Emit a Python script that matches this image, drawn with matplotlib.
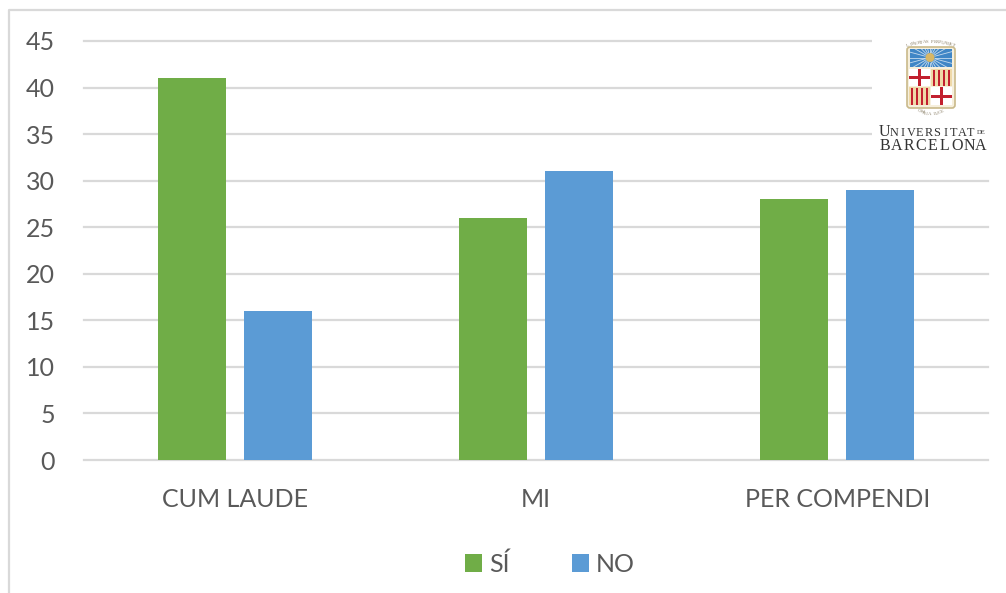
import matplotlib
matplotlib.use('Agg')
import matplotlib.pyplot as plt
import matplotlib.patches as patches
from matplotlib.lines import Line2D
import numpy as np

plt.rcParams['font.family'] = ['Lato', 'DejaVu Sans']

categories = ['CUM LAUDE', 'MI', 'PER COMPENDI']
si_values = [41, 26, 28]
no_values = [16, 31, 29]
y_ticks = [0, 5, 10, 15, 20, 25, 30, 35, 40, 45]

GREEN = '#70AD47'
BLUE = '#5B9BD5'
GRID = '#D9D9D9'
TEXT = '#595959'
W, H = 1006, 593


def spaced(ov, s, x0, x1, y, size):
    # evenly spread letters, the wordmark is letterspaced
    for cx, ch in zip(np.linspace(x0, x1, len(s)), s):
        ov.text(cx, y, ch, fontsize=size, color='#333333', ha='center', va='center',
                family='Liberation Serif', zorder=5)


def arc_text(ov, s, cx, cy, r, a0, a1, flip=False):
    for a, ch in zip(np.radians(np.linspace(a0, a1, len(s))), s):
        rot = np.degrees(a) - 90 if not flip else np.degrees(a) + 90
        ov.text(cx + r * np.cos(a), cy - r * np.sin(a), ch, fontsize=3.4, color='#8A7F66',
                rotation=rot, ha='center', va='center', family='Liberation Serif', zorder=5)


def draw_logo(ov):
    # white box hides the gridlines behind the logo
    ov.add_patch(patches.Rectangle((872, 22), 125, 142, fc='white', ec='none', zorder=1))
    ov.add_patch(patches.FancyBboxPatch((908, 48), 46, 59, boxstyle='round,pad=1,rounding_size=3',
                                        fc='#F6EFDC', ec='#C9B98A', lw=1.2, zorder=2))
    sky = patches.Rectangle((910, 49), 42, 18, fc='#3F86C6', ec='none', zorder=3)
    ov.add_patch(sky)
    for a in np.linspace(0, 2 * np.pi, 24, endpoint=False):
        ray = Line2D([930 + 5 * np.cos(a), 930 + 26 * np.cos(a)],
                     [57.5 + 5 * np.sin(a), 57.5 + 26 * np.sin(a)],
                     color='white', lw=0.6, alpha=0.7, zorder=4)
        ov.add_line(ray)
        ray.set_clip_path(sky)
    ov.add_patch(patches.Ellipse((930, 57.5), 9, 9, fc='#D8B765', ec='none', zorder=5))
    # quarters: cross, bars, bars, cross
    ov.add_patch(patches.Rectangle((909, 69), 21, 17, fc='white', ec='none', zorder=3))
    ov.add_patch(patches.Rectangle((931, 69), 21, 17, fc='#EFD9A8', ec='none', zorder=3))
    ov.add_patch(patches.Rectangle((909, 87), 21, 18, fc='#EFD9A8', ec='none', zorder=3))
    ov.add_patch(patches.Rectangle((931, 87), 21, 18, fc='white', ec='none', zorder=3))
    ov.add_patch(patches.Rectangle((909, 76), 21, 3, fc='#C2202F', ec='none', zorder=4))
    ov.add_patch(patches.Rectangle((918, 69), 3, 17, fc='#C2202F', ec='none', zorder=4))
    ov.add_patch(patches.Rectangle((931, 95), 21, 3, fc='#C2202F', ec='none', zorder=4))
    ov.add_patch(patches.Rectangle((940, 87), 3, 18, fc='#C2202F', ec='none', zorder=4))
    for bx in (933, 938, 943, 948):
        ov.add_patch(patches.Rectangle((bx, 70), 2.5, 16, fc='#C2202F', ec='none', zorder=4))
    for bx in (911, 916, 921, 926):
        ov.add_patch(patches.Rectangle((bx, 88), 2.5, 17, fc='#C2202F', ec='none', zorder=4))
    arc_text(ov, 'LIBERTAS PERFUNDET', 931, 115, 73, 108, 72)
    arc_text(ov, 'OMNIA LUCE', 931, 88, 26, 243, 297, flip=True)
    # small caps wordmark
    ov.text(884, 131.5, 'U', fontsize=11.5, color='#333333', ha='center', va='center',
            family='Liberation Serif', zorder=5)
    spaced(ov, 'NIVERSITAT', 894, 971, 132.5, 8.8)
    ov.text(981.5, 133, 'DE', fontsize=4.8, color='#333333', ha='center', va='center',
            family='Liberation Serif', zorder=5)
    spaced(ov, 'BARCELONA', 884.5, 981, 146, 11.5)


fig = plt.figure(figsize=(W / 100, H / 100), dpi=100, facecolor='white')

# plot area in pixels: x 84-988, y 41-460
ax = fig.add_axes([84 / W, 1 - 460 / H, (988 - 84) / W, (460 - 41) / H])
x = np.arange(len(categories))
bar_w = 68 / 301.5
off = 43 / 301.5
ax.bar(x - off, si_values, bar_w, color=GREEN, label='SÍ', zorder=3)
ax.bar(x + off, no_values, bar_w, color=BLUE, label='NO', zorder=3)

ax.set_xlim(-0.5, 2.5)
ax.set_ylim(0, 45)
ax.set_yticks(y_ticks)
ax.set_xticks(x)
ax.set_xticklabels(categories)
ax.tick_params(axis='both', length=0, labelcolor=TEXT, labelsize=18)
ax.tick_params(axis='y', pad=21)
ax.tick_params(axis='x', pad=20.5)
ax.grid(axis='y', color=GRID, lw=1.6, zorder=0, clip_on=False)
for gl in ax.get_ygridlines():
    gl.set_clip_on(False)
ax.set_axisbelow(True)
for s in ax.spines.values():
    s.set_visible(False)
ax.patch.set_alpha(0)

# overlay in image pixels for the chart frame and logo
ov = fig.add_axes([0, 0, 1, 1], zorder=5)
ov.set_xlim(0, W)
ov.set_ylim(H, 0)
ov.axis('off')
ov.add_line(Line2D([9.5, 9.5, W], [H, 10, 10], color=GRID, lw=1.6, zorder=1))
draw_logo(ov)

handles, labels = ax.get_legend_handles_labels()
fig.legend(handles, labels, loc='center', bbox_to_anchor=(550 / W, 1 - 564 / H), ncol=2, frameon=False,
           fontsize=18, labelcolor=TEXT, handlelength=0.68, handleheight=0.68, handletextpad=0.28,
           columnspacing=2.5)

fig.savefig('out.png', dpi=100)
